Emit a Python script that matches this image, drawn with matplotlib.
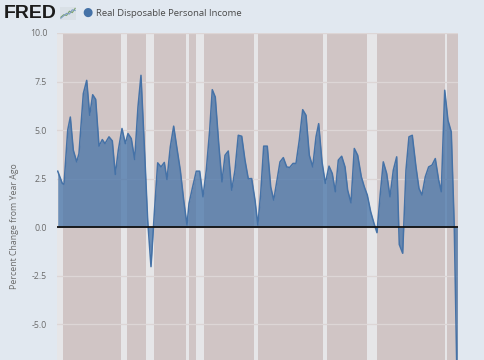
import matplotlib
matplotlib.use("Agg")
import matplotlib.pyplot as plt
import numpy as np

# ---- data ----
years = [1960.11, 1960.82, 1961.08, 1961.65, 1962.05, 1962.51, 1963.03, 1963.38, 1964.05, 1964.57,
         1965.03, 1965.49, 1965.95, 1966.46, 1966.97, 1967.38, 1968.0, 1968.51, 1968.97, 1969.43,
         1970.0, 1970.51, 1970.92, 1971.43, 1971.95, 1972.46, 1972.92, 1973.43, 1973.95, 1974.46,
         1974.97, 1975.49, 1976.0, 1976.51, 1976.92, 1977.43, 1977.95, 1978.46, 1978.97, 1979.49,
         1980.0, 1980.31, 1980.82, 1981.43, 1981.95, 1982.46, 1982.97, 1983.49, 1983.89, 1984.35,
         1984.88, 1985.38, 1985.85, 1986.35, 1986.88, 1987.38, 1987.89, 1988.42, 1988.92, 1989.43,
         1989.95, 1990.46, 1990.9, 1991.34, 1991.8, 1992.35, 1992.88, 1993.34, 1993.85, 1994.31,
         1994.82, 1995.34, 1995.8, 1996.31, 1996.77, 1997.28, 1997.8, 1998.31, 1998.82, 1999.34,
         1999.85, 2000.26, 2000.77, 2001.28, 2001.85, 2002.35, 2002.82, 2003.28, 2003.8, 2004.31,
         2004.72, 2005.23, 2005.74, 2006.26, 2006.82, 2007.28, 2007.74, 2008.26, 2008.77, 2009.23,
         2009.74, 2010.2, 2010.72, 2011.23, 2011.74, 2012.26, 2012.66, 2013.18, 2013.69, 2014.15,
         2014.66, 2015.23, 2015.69, 2016.15, 2016.66, 2017.18, 2017.69, 2018.2, 2018.72, 2019.12,
         2019.65, 2020.15, 2020.66, 2021.12, 2021.6]
values = [2.88, 2.25, 2.2, 5.0, 5.67, 3.96, 3.36, 3.79, 6.88, 7.56,
          5.76, 6.82, 6.58, 4.17, 4.51, 4.3, 4.65, 4.44, 2.71, 3.96,
          5.08, 4.3, 4.82, 4.56, 3.48, 6.19, 7.82, 4.22, 0.36, -2.04,
          0.7, 3.31, 3.1, 3.33, 2.45, 4.13, 5.2, 4.05, 2.93, 1.39,
          0.1, 1.22, 2.0, 2.88, 2.88, 1.56, 2.93, 4.99, 7.08, 6.7,
          4.3, 2.33, 3.7, 3.92, 1.9, 2.93, 4.73, 4.68, 3.45, 2.49,
          2.5, 1.39, 0.1, 1.73, 4.17, 4.17, 2.07, 1.39, 2.42, 3.36,
          3.58, 3.1, 3.07, 3.28, 3.28, 4.48, 6.05, 5.76, 3.7, 3.1,
          4.65, 5.33, 3.36, 2.25, 3.14, 2.76, 1.82, 3.45, 3.65, 3.1,
          1.9, 1.25, 4.05, 3.7, 2.59, 2.07, 1.65, 0.79, 0.19, -0.29,
          1.73, 3.36, 2.76, 1.56, 2.93, 3.62, -0.9, -1.35, 2.93, 4.65,
          4.73, 3.1, 1.99, 1.65, 2.59, 3.1, 3.19, 3.53, 2.42, 1.82,
          7.05, 5.5, 4.9, 0.02, -9.0]

# shaded periods
band_starts = [1960.0, 1969.85, 1973.69, 1979.85, 1981.38, 1990.35, 2000.97, 2007.65, 2019.65]
band_ends = [1960.97, 1970.82, 1974.97, 1980.35, 1982.66, 1990.92, 2001.58, 2009.18, 2019.95]

y_ticks = [-5.0, -2.5, 0.0, 2.5, 5.0, 7.5, 10.0]
y_tick_labels = ["-5.0", "-2.5", "0.0", "2.5", "5.0", "7.5", "10.0"]

series_name = "Real Disposable Personal Income"
y_label = "Percent Change from Year Ago"

# ---- style ----
plt.rcParams['font.family'] = ['Open Sans', 'DejaVu Sans']
FIG_BG = '#e1e8f0'
PLOT_BG = '#d0c5c5'
BAND = '#e6e6e8'
LINE = '#4572a7'

W, H = 485, 360
fig = plt.figure(figsize=(W / 100, H / 100), dpi=100, facecolor=FIG_BG)

left, right, top = 57 / W, 458.3 / W, 33 / H
ax = fig.add_axes([left, 0.0, right - left, 1 - top])
ax.set_facecolor(PLOT_BG)

for s, e in zip(band_starts, band_ends):
    ax.axvspan(s, e, color=BAND, zorder=0.5, lw=0)

ax.set_yticks(y_ticks)
ax.set_yticklabels(y_tick_labels)
ax.yaxis.grid(True, color='#ddd6d6', lw=0.9, zorder=0.6)
ax.set_axisbelow(True)

ax.fill_between(years, values, 0, color=LINE, alpha=0.75, lw=0, zorder=2)
ax.plot(years, values, color=LINE, lw=1.1, zorder=2.5)
ax.axhline(0, color='#111111', lw=1.3, zorder=3)

ax.set_xlim(1960.0, 2021.74)
ax.set_ylim(-6.85, 10.0)
ax.set_xticks([])
for sp in ax.spines.values():
    sp.set_visible(False)
ax.tick_params(axis='y', length=0, pad=7, labelsize=6.3, labelcolor='#6b6b6b')

fig.text(15 / W, 1 - 226 / H, y_label, fontsize=6.3, color='#6b6b6b', rotation=90,
         ha='center', va='center')

# ---- header ----
fig.text(4 / W, 1 - 13 / H, "FRED", fontsize=14, fontweight='bold', color='#1c1c1c',
         va='center', ha='left', family=['Liberation Sans', 'DejaVu Sans'])
# small logo icon
iax = fig.add_axes([60 / W, 1 - 20 / H, 16 / W, 13 / H])
iax.set_facecolor('#d9e0e6')
iax.plot([0, 1, 2, 3, 4, 5], [0.5, 1.2, 1.0, 2.2, 1.8, 3.0], color='#7aa36b', lw=0.8)
iax.plot([0, 1, 2, 3, 4, 5], [0.2, 0.9, 1.6, 1.4, 2.6, 2.4], color='#7d9cc0', lw=0.8)
iax.set_xlim(-0.3, 5.3)
iax.set_ylim(-0.3, 3.4)
iax.set_xticks([]); iax.set_yticks([])
for sp in iax.spines.values():
    sp.set_visible(False)

fig.text(87 / W, 1 - 12.5 / H, "\u25CF", fontsize=8.5, color=LINE, ha='center', va='center',
         family=['DejaVu Sans'])
fig.text(96 / W, 1 - 13 / H, series_name, fontsize=6.8, color='#4a4a4a', ha='left', va='center')

fig.savefig("out.png", dpi=100, facecolor=FIG_BG)
